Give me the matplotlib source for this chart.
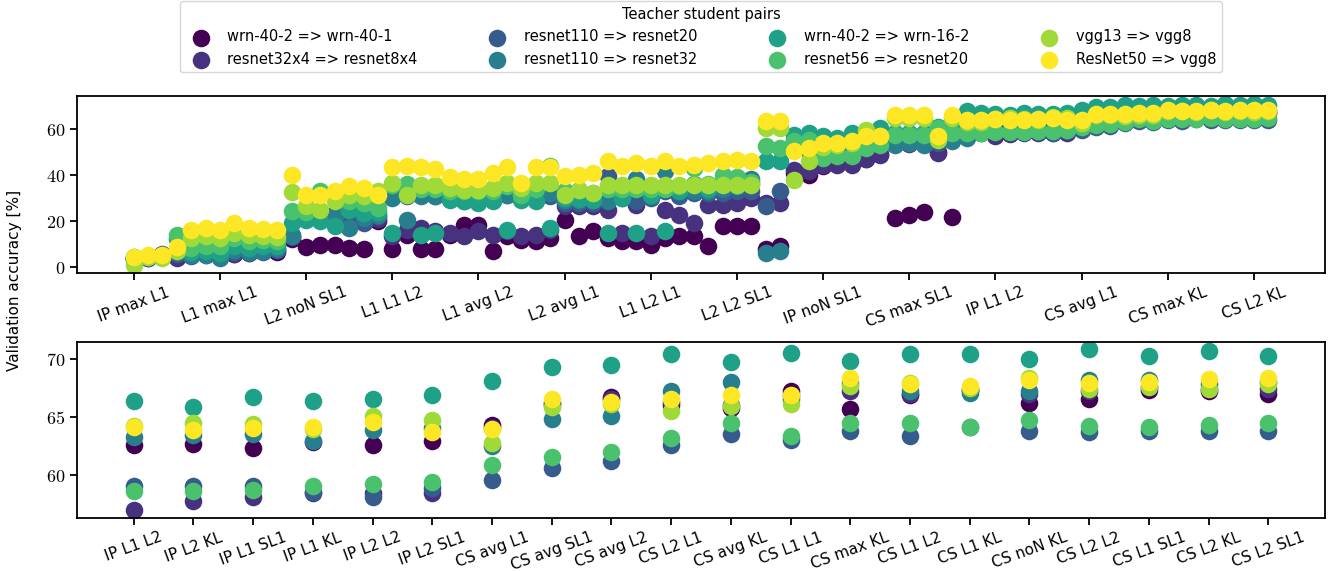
import numpy as np
import matplotlib
matplotlib.use("Agg")
import matplotlib.pyplot as plt
from matplotlib.ticker import FuncFormatter

plt.rcParams['font.family'] = ['DejaVu Sans']
plt.rcParams['mathtext.fontset'] = 'cm'

# teacher => student pairs (legend order)
pairs = ["wrn-40-2 => wrn-40-1", "resnet32x4 => resnet8x4",
         "resnet110 => resnet20", "resnet110 => resnet32",
         "wrn-40-2 => wrn-16-2", "resnet56 => resnet20",
         "vgg13 => vgg8", "ResNet50 => vgg8"]

# 80 loss configurations, sorted by accuracy; only every 6th is labelled on the top panel
top_ticklabels = ["IP max L1", "L1 max L1", "L2 noN SL1", "L1 L1 L2", "L1 avg L2",
                  "L2 avg L1", "L1 L2 L1", "L2 L2 SL1", "IP noN SL1", "CS max SL1",
                  "IP L1 L2", "CS avg L1", "CS max KL", "CS L2 KL"]

# the 20 best configurations (last 20 of the top panel)
bottom_labels = ["IP L1 L2", "IP L2 KL", "IP L1 SL1", "IP L1 KL", "IP L2 L2",
                 "IP L2 SL1", "CS avg L1", "CS avg SL1", "CS avg L2", "CS L2 L1",
                 "CS avg KL", "CS L1 L1", "CS max KL", "CS L1 L2", "CS L1 KL",
                 "CS noN KL", "CS L2 L2", "CS L1 SL1", "CS L2 KL", "CS L2 SL1"]

wrn40_1 = [3.5, 4.0, 4.5, 5.0, 7.5, 6.0, 6.5, 5.6, 7.0, 7.5, 6.4,
           12.0, 8.5, 9.4, 9.7, 8.3, 7.9, 19.8,
           7.9, 14.0, 7.9, 7.9, 14.0, 18.4, 18.4, 6.8, 13.3, 11.9, 11.2, 12.6,
           20.6, 13.3, 15.5, 12.6, 11.1, 11.1, 9.7, 12.6, 13.3, 13.3, 9.0, 17.7, 17.7, 17.7,
           8.0, 8.9, 41.0, 40.1, 44.0, 45.0, 45.0, 47.0, 49.0, 21.3, 22.7, 23.9, 50.0, 21.6, 59.0, 60.0,
           62.6, 62.65, 62.3, 62.8, 62.6, 62.9, 64.3, 66.2, 66.7, 66.05,
           65.8, 67.2, 65.7, 66.86, 67.3, 66.2, 66.5, 67.35, 67.2, 66.97]
resnet8x4 = [3.8, 4.2, 5.0, 3.9, 6.0, 6.5, 5.5, 5.6, 6.0, 7.0, 7.5,
             13.0, 21.0, 22.0, 22.0, 21.0, 20.0, 21.0,
             13.3, 16.2, 16.9, 15.5, 14.8, 13.3, 15.5, 14.0, 15.5, 13.5, 14.0, 16.0,
             26.3, 26.3, 26.3, 24.9, 14.8, 27.0, 13.3, 24.9, 22.7, 19.1, 27.1, 27.1, 28.0, 30.0,
             27.8, 27.8, 42.0, 41.6, 44.5, 44.5, 44.5, 47.0, 48.8, 53.5, 53.5, 53.5, 49.6, 57.0, 57.5, 58.0,
             56.9, 57.7, 58.05, 58.4, 58.4, 58.4, 64.0, 66.0, 66.5, 66.3,
             66.0, 66.9, 67.2, 67.0, 67.3, 67.0, 67.2, 67.6, 67.4, 67.4]
resnet20_110 = [3.9, 3.9, 5.8, 5.5, 4.6, 5.0, 4.5, 6.5, 6.0, 6.5, 7.5,
                14.0, 22.0, 23.5, 23.4, 21.9, 19.1, 22.0,
                30.5, 31.0, 31.5, 31.0, 30.0, 29.0, 29.0, 30.5, 31.4, 30.0, 31.0, 31.0,
                28.0, 28.0, 28.0, 39.4, 30.0, 28.5, 30.0, 33.0, 31.0, 32.0, 32.0, 32.0, 33.0, 33.0,
                26.3, 32.9, 52.0, 50.0, 52.0, 52.0, 53.0, 54.0, 55.0, 54.0, 55.0, 55.0, 54.0, 57.0, 58.0, 58.5,
                59.05, 59.05, 59.0, 58.5, 58.1, 58.85, 59.5, 60.6, 61.15, 62.6,
                63.5, 63.0, 63.75, 63.37, 64.1, 63.75, 63.66, 63.75, 63.8, 63.75]
resnet32 = [4.0, 4.5, 5.0, 6.5, 5.3, 5.3, 3.9, 7.5, 6.5, 6.8, 8.2,
            13.6, 21.0, 21.0, 22.0, 16.9, 21.3, 22.7,
            30.0, 20.6, 30.7, 30.7, 29.5, 28.5, 28.5, 29.0, 31.4, 31.4, 32.0, 32.0,
            29.0, 29.0, 29.0, 28.5, 30.5, 38.0, 31.0, 41.6, 33.0, 33.0, 33.0, 34.0, 38.0, 38.0,
            6.2, 6.8, 55.0, 56.0, 55.0, 55.0, 56.0, 57.0, 57.0, 53.1, 53.9, 53.1, 55.0, 54.6, 56.1, 60.0,
            63.25, 63.45, 63.5, 62.95, 63.85, 64.0, 62.45, 64.8, 65.1, 67.2,
            68.0, 66.5, 67.9, 67.2, 67.1, 67.2, 68.2, 68.2, 67.8, 68.0]
wrn16_2 = [4.2, 4.8, 5.2, 12.0, 6.5, 6.8, 6.1, 9.0, 8.2, 9.0, 9.0,
           19.1, 20.6, 19.8, 17.7, 24.9, 23.5, 24.0,
           14.8, 33.0, 14.0, 14.8, 29.2, 28.5, 27.8, 28.5, 16.2, 29.0, 28.5, 16.9,
           30.0, 29.5, 29.0, 14.8, 30.0, 14.8, 31.4, 15.5, 33.0, 36.0, 34.0, 37.0, 35.0, 36.0,
           45.9, 45.9, 57.5, 58.2, 56.8, 56.1, 58.2, 57.5, 60.4, 58.0, 58.0, 58.0, 61.0, 60.0, 67.7, 66.9,
           66.4, 65.85, 66.75, 66.4, 66.55, 66.9, 68.07, 69.28, 69.45, 70.46,
           69.74, 70.5, 69.86, 70.46, 70.46, 70.03, 70.86, 70.3, 70.7, 70.3]
resnet20_56 = [4.0, 4.6, 4.8, 14.0, 8.2, 9.0, 9.0, 12.6, 11.1, 11.5, 11.1,
               24.2, 24.0, 33.0, 30.0, 28.5, 27.8, 25.6,
               35.5, 36.1, 34.0, 34.0, 33.0, 33.0, 33.0, 33.0, 35.0, 31.4, 34.0, 44.0,
               33.0, 33.6, 32.0, 34.0, 34.0, 34.0, 34.0, 34.0, 35.0, 43.0, 36.0, 40.0, 39.0, 37.0,
               52.4, 51.7, 54.6, 55.3, 47.4, 48.1, 48.1, 51.7, 53.1, 57.5, 57.5, 57.5, 60.4, 58.2, 58.2, 58.2,
               58.55, 58.55, 58.7, 59.0, 59.15, 59.4, 60.8, 61.5, 62.0, 63.17,
               64.47, 63.37, 64.47, 64.47, 64.1, 64.7, 64.2, 64.1, 64.3, 64.5]
vgg8_13 = [1.0, 4.5, 3.9, 6.8, 12.6, 13.3, 12.6, 14.8, 14.0, 13.3, 13.0,
           32.6, 26.3, 24.9, 28.5, 31.4, 30.7, 32.9,
           36.5, 31.4, 35.8, 35.8, 34.3, 33.6, 33.6, 34.3, 36.5, 34.5, 36.5, 36.5,
           31.4, 33.6, 32.1, 35.8, 35.5, 35.8, 35.8, 35.8, 35.8, 35.8, 35.8, 35.8, 35.8, 35.8,
           60.4, 60.5, 37.9, 45.9, 52.0, 53.0, 54.0, 59.7, 57.0, 64.5, 64.5, 64.5, 55.0, 64.5, 63.0, 63.0,
           64.2, 64.5, 64.4, 63.95, 65.1, 64.75, 62.7, 65.85, 66.1, 65.5,
           65.9, 66.1, 67.7, 67.9, 67.5, 68.35, 67.4, 67.6, 67.4, 67.8]
vgg8_r50 = [4.3, 5.3, 5.3, 8.7, 16.2, 16.9, 16.2, 19.1, 16.9, 16.6, 16.2,
            40.1, 31.4, 31.4, 33.2, 35.0, 34.3, 31.1,
            43.5, 44.0, 43.3, 42.7, 39.0, 38.4, 38.4, 40.8, 43.3, 36.5, 43.3, 43.3,
            39.4, 40.1, 40.8, 45.9, 43.7, 45.2, 43.7, 45.9, 43.7, 44.5, 45.2, 45.9, 46.6, 45.9,
            63.3, 63.6, 50.3, 51.7, 53.9, 53.9, 54.6, 56.8, 56.8, 65.9, 65.9, 65.9, 56.8, 66.2, 64.0, 64.0,
            64.1, 63.9, 64.0, 64.1, 64.55, 63.7, 63.98, 66.54, 66.3, 66.5,
            66.9, 66.9, 68.4, 67.8, 67.7, 68.2, 67.9, 67.98, 68.27, 68.4]

series = [wrn40_1, resnet8x4, resnet20_110, resnet32, wrn16_2, resnet20_56, vgg8_13, vgg8_r50]
colors = plt.cm.viridis(np.linspace(0, 1, len(pairs)))

fig = plt.figure(figsize=(13.28, 5.71), dpi=100)
ax_top = fig.add_axes([0.058, 0.522, 0.9397, 0.310])
ax_bot = fig.add_axes([0.058, 0.093, 0.9397, 0.308])

x_top = np.arange(len(wrn40_1))
x_bot = np.arange(len(bottom_labels))
n_bot = len(bottom_labels)

for vals, c, name in zip(series, colors, pairs):
    ax_top.scatter(x_top, vals, s=160, color=c, linewidths=0, label=name)
    ax_bot.scatter(x_bot, vals[-n_bot:], s=160, color=c, linewidths=0)

ax_top.set_xticks(x_top[::6])
ax_top.set_xticklabels(top_ticklabels, rotation=20, ha='center', fontsize=11)
ax_top.set_ylim(-2.6, 74.3)
ax_top.set_yticks([0, 20, 40, 60])

ax_bot.set_xticks(x_bot)
ax_bot.set_xticklabels(bottom_labels, rotation=20, ha='center', fontsize=11)
ax_bot.set_ylim(56.26, 71.47)
ax_bot.set_yticks([60, 65, 70])

fmt = FuncFormatter(lambda v, p: r'$%d$' % v)
for ax in (ax_top, ax_bot):
    ax.yaxis.set_major_formatter(fmt)
    ax.tick_params(axis='y', labelsize=13)
    ax.tick_params(width=1.3, length=5)
    for sp in ax.spines.values():
        sp.set_linewidth(1.3)

fig.text(0.011, 0.508, 'Validation accuracy [%]', rotation=90, va='center', ha='center', fontsize=11)

ax_top.legend(title='Teacher student pairs', ncol=4, loc='upper center',
              bbox_to_anchor=(0.5, 1.535), fontsize=10.5, title_fontsize=10.5,
              columnspacing=4.5, scatterpoints=1, handletextpad=0.8, borderaxespad=0)

fig.savefig('out.png', dpi=100)
